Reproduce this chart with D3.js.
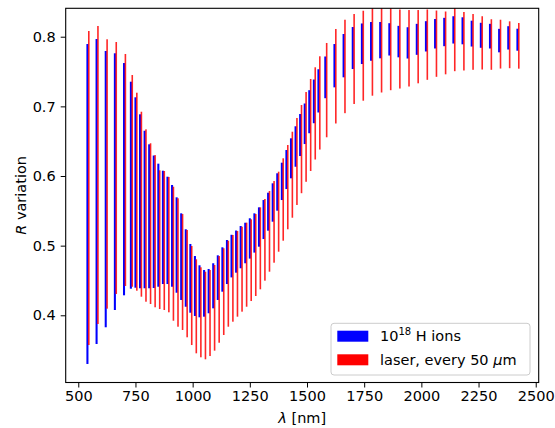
<!DOCTYPE html>
<html><head><meta charset="utf-8">
<script src="https://cdn.jsdelivr.net/npm/d3@7"></script>
<style>body{margin:0;background:#fff} text{font-family:"DejaVu Sans",sans-serif}</style>
</head><body><svg id="c" width="555" height="428"></svg>
<script>
const wavelengths = [540,580,620,660,700,730,750,770,790,810,830,850,870,890,910,930,950,970,990,1010,1030,1050,1070,1090,1110,1130,1150,1170,1190,1210,1230,1250,1270,1290,1310,1330,1350,1370,1390,1410,1430,1450,1470,1490,1510,1530,1550,1580,1620,1660,1700,1740,1780,1820,1860,1900,1940,1980,2020,2060,2100,2140,2180,2220,2260,2300,2340,2380,2420];
const ionsHigh = [0.7895,0.7967,0.7795,0.7762,0.7622,0.7354,0.713,0.6886,0.665,0.6455,
  0.6294,0.6177,0.6076,0.599,0.5871,0.5694,0.5464,0.5235,0.5024,0.4851,
  0.4718,0.465,0.4665,0.4747,0.4861,0.4976,0.5081,0.5156,0.5217,0.5282,
  0.5329,0.5393,0.5464,0.555,0.5655,0.576,0.5895,0.6039,0.6191,0.6373,
  0.6541,0.6714,0.689,0.7041,0.7232,0.7385,0.7533,0.7716,0.7895,0.8039,
  0.8139,0.819,0.8211,0.8211,0.8194,0.8156,0.8136,0.8185,0.8223,0.8254,
  0.8271,0.8294,0.8279,0.823,0.82,0.8185,0.8113,0.8151,0.8115];
const ionsLow = [0.3301,0.3588,0.3828,0.4076,0.4287,0.4382,0.4396,0.4388,0.4388,0.4388,
  0.4392,0.441,0.4449,0.4449,0.441,0.4324,0.422,0.4123,0.4037,0.399,
  0.3971,0.398,0.4029,0.41,0.422,0.4339,0.4449,0.4544,0.4612,0.4675,
  0.4747,0.4814,0.49,0.4985,0.5095,0.5215,0.5344,0.5502,0.5655,0.5813,
  0.5967,0.6133,0.6287,0.6459,0.6614,0.6758,0.6912,0.7117,0.7273,0.7417,
  0.7536,0.7608,0.7655,0.769,0.773,0.7704,0.7687,0.774,0.7788,0.7831,
  0.7864,0.7902,0.7891,0.7859,0.7841,0.7831,0.7776,0.7816,0.7799];
const laserHigh = [0.8082,0.8154,0.7963,0.7924,0.7752,0.745,0.7196,0.6923,0.667,0.647,
  0.630,0.6082,0.6072,0.5986,0.5846,0.568,0.5454,0.5225,0.4995,0.4804,
  0.4689,0.4626,0.465,0.4722,0.4851,0.4962,0.5071,0.5153,0.521,0.5272,
  0.533,0.5378,0.5454,0.555,0.567,0.5785,0.5928,0.6062,0.6254,0.6445,
  0.6636,0.6833,0.7019,0.7206,0.7393,0.7561,0.7719,0.791,0.8111,0.8244,
  0.8326,0.8373,0.845,0.846,0.842,0.8391,0.8383,0.8383,0.8391,0.8376,
  0.8362,0.843,0.8355,0.8326,0.8294,0.8251,0.8244,0.8221,0.8197];
const laserLow = [0.3573,0.3875,0.4095,0.4306,0.4421,0.441,0.4353,0.4267,0.4195,0.4162,
  0.4115,0.409,0.4076,0.4043,0.3922,0.3836,0.3789,0.3684,0.3573,0.3454,
  0.3397,0.3368,0.3415,0.3492,0.3606,0.3717,0.3836,0.3908,0.398,0.4052,
  0.4123,0.4205,0.4277,0.4373,0.4497,0.4626,0.4755,0.4913,0.5071,0.5235,
  0.5401,0.5584,0.5753,0.5917,0.6072,0.6237,0.638,0.6556,0.6754,0.6902,
  0.7034,0.7081,0.7153,0.7199,0.7232,0.7256,0.7285,0.7331,0.7381,0.7424,
  0.746,0.7505,0.7515,0.7525,0.7529,0.7525,0.7543,0.7548,0.7541];
const xTicks = [500,750,1000,1250,1500,1750,2000,2250,2500];
const yTicks = [0.4,0.5,0.6,0.7,0.8];
const seriesNames = ["H ions", "laser, every 50 "];

const svg = d3.select("#c");
const L = 65.7, R = 538.7, T = 8.3, B = 382.5;
const x = d3.scaleLinear().domain([445, 2513]).range([L, R]);
const y = d3.scaleLinear().domain([0.3035, 0.8408]).range([B, T]);

svg.append("defs").append("clipPath").attr("id","clip")
  .append("rect").attr("x",L).attr("y",T).attr("width",R-L).attr("height",B-T);

const g = svg.append("g").attr("clip-path","url(#clip)");
const blueW = x(9) - x(0), redW = x(7) - x(0), redShift = x(6) - x(0);
const idx = d3.range(wavelengths.length);

g.selectAll(".ion").data(idx).join("rect")
  .attr("x", i => x(wavelengths[i]) - blueW/2)
  .attr("width", blueW)
  .attr("y", i => y(ionsHigh[i]))
  .attr("height", i => y(ionsLow[i]) - y(ionsHigh[i]))
  .attr("fill", "#0000ff");
g.selectAll(".laser").data(idx).join("rect")
  .attr("x", i => x(wavelengths[i]) + redShift - redW/2)
  .attr("width", redW)
  .attr("y", i => y(laserHigh[i]))
  .attr("height", i => y(laserLow[i]) - y(laserHigh[i]))
  .attr("fill", "#ff0000").attr("opacity", 0.85);

// axes
const xa = svg.append("g").attr("transform", `translate(0,${B})`)
  .call(d3.axisBottom(x).tickValues(xTicks).tickSize(5).tickPadding(3.5).tickFormat(d3.format("d")));
const ya = svg.append("g").attr("transform", `translate(${L},0)`)
  .call(d3.axisLeft(y).tickValues(yTicks).tickSize(5).tickPadding(5).tickFormat(d3.format(".1f")));
[xa, ya].forEach(a => {
  a.select(".domain").remove();
  a.selectAll(".tick line").attr("stroke", "#000").attr("stroke-width", 1);
  a.selectAll(".tick text").attr("font-size", 14.5).attr("fill", "#000")
    .attr("font-family", "DejaVu Sans");
});
svg.append("rect").attr("x", L).attr("y", T).attr("width", R-L).attr("height", B-T)
  .attr("fill", "none").attr("stroke", "#000").attr("stroke-width", 1.1);

// axis labels
const xl = svg.append("text").attr("x", (L+R)/2).attr("y", 423).attr("text-anchor", "middle")
  .attr("font-size", 14.5);
xl.append("tspan").attr("font-style", "italic").text("λ");
xl.append("tspan").text(" [nm]");
const yl = svg.append("text").attr("transform", `translate(25.5,${(T+B)/2}) rotate(-90)`)
  .attr("text-anchor", "middle").attr("font-size", 14.5);
yl.append("tspan").attr("font-style", "italic").text("R");
yl.append("tspan").text(" variation");

// legend
const lg = svg.append("g");
lg.append("rect").attr("x", 331).attr("y", 323.3).attr("width", 199).attr("height", 51.7)
  .attr("rx", 3).attr("fill", "#fff").attr("fill-opacity", 0.8).attr("stroke", "#cccccc");
lg.append("rect").attr("x", 337.3).attr("y", 330.7).attr("width", 31).attr("height", 11).attr("fill", "#0000ff");
lg.append("rect").attr("x", 337.3).attr("y", 354.3).attr("width", 31).attr("height", 11).attr("fill", "#ff0000");
const t1 = lg.append("text").attr("x", 380).attr("y", 341).attr("font-size", 14.5);
t1.append("tspan").text("10");
t1.append("tspan").attr("font-size", 10).attr("dy", -6).text("18");
t1.append("tspan").attr("dy", 6).text(" " + seriesNames[0]);
const t2 = lg.append("text").attr("x", 380).attr("y", 365).attr("font-size", 14.5);
t2.append("tspan").text(seriesNames[1]);
t2.append("tspan").attr("font-style", "italic").text("μ");
t2.append("tspan").text("m");
</script></body></html>
